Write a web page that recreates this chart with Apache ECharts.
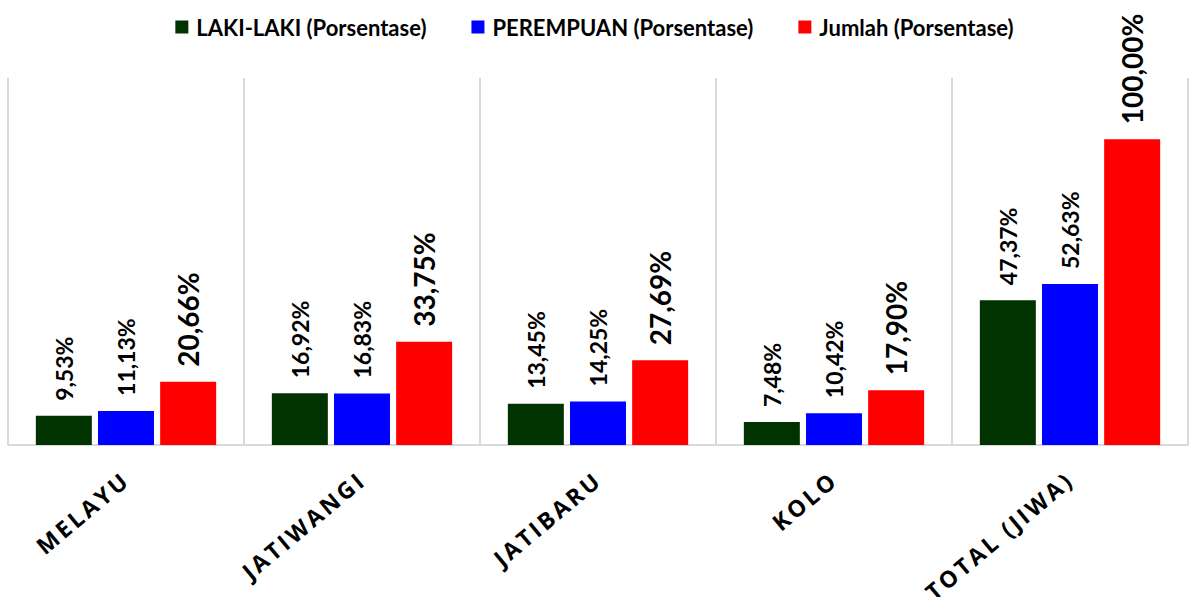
<!DOCTYPE html>
<html>
<head>
<meta charset="utf-8">
<script src="https://cdn.jsdelivr.net/npm/echarts@6/dist/echarts.min.js"></script>
<style>
  html, body { margin: 0; padding: 0; background: #fff; }
  #chart { width: 1189px; height: 597px; }
  /* letter spacing for the category labels only (SVG renderer) */
  #chart text[style*="Open Sans"] { letter-spacing: 3px; }
</style>
</head>
<body>
<div id="chart"></div>
<script>
var categories = ['MELAYU', 'JATIWANGI', 'JATIBARU', 'KOLO', 'TOTAL (JIWA)']
var seriesNames = ['LAKI-LAKI (Porsentase)', 'PEREMPUAN (Porsentase)', 'Jumlah (Porsentase)']
var lakiLaki = [9.53, 16.92, 13.45, 7.48, 47.37]
var perempuan = [11.13, 16.83, 14.25, 10.42, 52.63]
var jumlah = [20.66, 33.75, 27.69, 17.90, 100.00]
var colors = ['#003300', '#0000ff', '#ff0000']

// 9.53 -> "9,53%"
function fmtPct (p) {
  return p.value.toFixed(2).replace('.', ',') + '%'
}

function makeSeries (name, data, color, fontSize) {
  return {
    name: name,
    type: 'bar',
    data: data,
    barWidth: 56,
    barGap: '11%',
    itemStyle: { color: color },
    label: {
      show: true,
      position: 'top',
      distance: 15,
      rotate: 90,
      align: 'left',
      verticalAlign: 'middle',
      formatter: fmtPct,
      fontFamily: 'Lato',
      fontWeight: 'bold',
      fontSize: fontSize,
      color: '#000'
    }
  }
}

var chart = echarts.init(document.getElementById('chart'), null, { renderer: 'svg' })
var option = {
  animation: false,
  color: colors,
  legend: {
    top: 11,
    left: 'center',
    itemWidth: 13,
    itemHeight: 13,
    itemGap: 45,
    icon: 'rect',
    data: seriesNames,
    textStyle: {
      fontFamily: 'Lato',
      fontWeight: 'bold',
      fontSize: 22,
      color: '#000',
      padding: [0, 0, 0, 3]
    }
  },
  grid: {
    left: 8,
    right: 1,
    top: 78,
    bottom: 152
  },
  xAxis: {
    type: 'category',
    data: categories,
    axisLine: { lineStyle: { color: '#d9d9d9', width: 2 } },
    axisTick: { show: false },
    splitLine: { show: true, lineStyle: { color: '#d9d9d9', width: 2 } },
    axisLabel: {
      rotate: 40,
      margin: 31,
      interval: 0,
      fontFamily: 'Open Sans',
      fontWeight: 'bold',
      fontSize: 23,
      color: '#000'
    }
  },
  yAxis: {
    type: 'value',
    min: 0,
    max: 120,
    show: false
  },
  series: [
    makeSeries(seriesNames[0], lakiLaki, colors[0], 23),
    makeSeries(seriesNames[1], perempuan, colors[1], 23),
    makeSeries(seriesNames[2], jumlah, colors[2], 28)
  ]
}
chart.setOption(option)
</script>
</body>
</html>
